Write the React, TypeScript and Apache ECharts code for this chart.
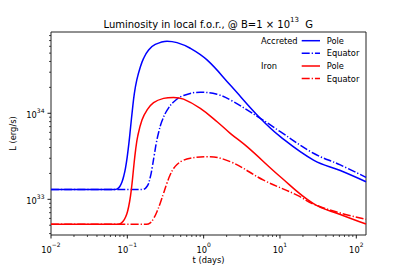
import React, { useEffect, useRef } from 'react';
import * as echarts from 'echarts';

// axis ranges (days, erg/s)
const X_MIN_DAYS = 0.01;
const X_MAX_DAYS = 134;
const Y_MIN_LUM = 3.85e32;
const Y_MAX_LUM = 8.8e34;

// Accreted envelope, pole
const accretedPoleT = [0.01, 0.0675, 0.0739, 0.0797, 0.0851, 0.0899, 0.0946, 0.0996, 0.105, 0.1104, 0.1161, 0.1234, 0.1331, 0.148, 0.1633, 0.19, 0.2323, 0.3311, 0.4477, 0.668, 1.107, 2.23, 5.52, 10.1, 27.5, 61.7, 134];
const accretedPoleL = [1.3e33, 1.3e33, 1.325e33, 1.41e33, 1.59e33, 1.87e33, 2.31e33, 3.1e33, 4.52e33, 6.93e33, 1.06e34, 1.68e34, 2.44e34, 3.45e34, 4.34e34, 5.45e34, 6.31e34, 6.89e34, 6.62e34, 5.7e34, 4.17e34, 2.13e34, 8.75e33, 5.35e33, 2.86e33, 2.16e33, 1.6e33];

// Accreted envelope, equator
const accretedEquatorT = [0.01, 0.158, 0.1828, 0.2, 0.2123, 0.2254, 0.2399, 0.257, 0.2844, 0.3311, 0.4036, 0.5458, 0.9036, 1.5, 2.23, 5.52, 10.1, 27.5, 61.7, 134];
const accretedEquatorL = [1.3e33, 1.3e33, 1.429e33, 1.816e33, 2.377e33, 3.273e33, 4.519e33, 5.984e33, 8.128e33, 1.079e34, 1.352e34, 1.611e34, 1.754e34, 1.66e34, 1.43e34, 8.75e33, 6.11e33, 3.43e33, 2.51e33, 1.8e33];

// Iron envelope, pole
const ironPoleT = [0.01, 0.0762, 0.0834, 0.0912, 0.0984, 0.1045, 0.11, 0.1155, 0.1216, 0.1283, 0.1371, 0.1556, 0.1811, 0.2208, 0.2985, 0.4036, 0.5458, 0.904, 1.5, 2.23, 3.7, 10.1, 27.5, 61.7, 134];
const ironPoleL = [5.12e32, 5.12e32, 5.3e32, 5.82e32, 6.75e32, 8.36e32, 1.09e33, 1.55e33, 2.44e33, 3.74e33, 5.45e33, 8.36e33, 1.09e34, 1.33e34, 1.49e34, 1.53e34, 1.46e34, 1.14e34, 7.98e33, 5.85e33, 4.09e33, 1.83e33, 8.9e32, 6.67e32, 5.16e32];

// Iron envelope, equator
const ironEquatorT = [0.01, 0.178, 0.2, 0.2208, 0.2449, 0.2704, 0.2985, 0.3311, 0.3656, 0.4036, 0.4477, 0.52, 0.668, 1.107, 2.23, 6.1, 16.7, 27.5, 61.7, 134];
const ironEquatorL = [5.12e32, 5.12e32, 5.33e32, 5.98e32, 7.21e32, 9.06e32, 1.18e33, 1.55e33, 1.94e33, 2.28e33, 2.54e33, 2.79e33, 3.0e33, 3.13e33, 2.74e33, 1.67e33, 1.12e33, 8.8e32, 6.93e32, 5.85e32];

const xMajorExponents = [-2, -1, 0, 1, 2];
const yMajorExponents = [33, 34];
const minorMultipliers = [2, 3, 4, 5, 6, 7, 8, 9];

const FONT = 'DejaVu Sans';
const BLUE = '#0000ff';
const RED = '#ff0000';
const DASHDOT = [8, 2, 1.25, 2];

const lg = (v: number) => Math.log10(v);
const XL0 = lg(X_MIN_DAYS), XL1 = lg(X_MAX_DAYS);
const YL0 = lg(Y_MIN_LUM), YL1 = lg(Y_MAX_LUM);

function pairs(ts: number[], ls: number[]) {
  return ts.map((t, i) => [lg(t), lg(ls[i])]);
}

function tickData(majors: number[], l0: number, l1: number) {
  const out: number[][] = [];
  majors.forEach((e) => out.push([e, 1]));
  for (let n = Math.floor(l0) - 1; n <= Math.ceil(l1); n++) {
    minorMultipliers.forEach((k) => {
      const v = n + Math.log10(k);
      if (v >= l0 - 1e-9 && v <= l1 + 1e-9) out.push([v, 0]);
    });
  }
  return out;
}

const supRich = {
  b: { fontSize: 8.3, fontFamily: FONT, fill: '#000', color: '#000', lineHeight: 12, verticalAlign: 'bottom' },
  s: { fontSize: 6, fontFamily: FONT, fill: '#000', color: '#000', lineHeight: 6, verticalAlign: 'top' },
};

function expLabel(n: number) {
  const e = n < 0 ? '\u2212' + Math.abs(n) : String(n);
  return `{b|10}{s|${e}}`;
}

export default function App() {
  const ref = useRef<HTMLDivElement>(null);
  useEffect(() => {
    if (!ref.current) return;
    const chart = echarts.init(ref.current, undefined, { renderer: 'svg' });

    const lineSeries = (name: string, data: number[][], color: string, dash: any) => ({
      name,
      type: 'line',
      data,
      showSymbol: false,
      symbol: 'none',
      smooth: 0.4,
      clip: true,
      silent: true,
      lineStyle: { color, width: 1.5, type: dash },
      z: 3,
    });

    const xTickSeries = {
      type: 'custom',
      silent: true,
      clip: false,
      data: tickData(xMajorExponents, XL0, XL1),
      renderItem: (params: any, api: any) => {
        const v = api.value(0);
        const major = api.value(1) === 1;
        const p = api.coord([v, YL0]);
        const len = major ? 3.5 : 2;
        const children: any[] = [
          { type: 'line', shape: { x1: p[0], y1: p[1], x2: p[0], y2: p[1] + len }, style: { stroke: '#000', lineWidth: major ? 0.9 : 0.7 } },
        ];
        if (major) {
          children.push({
            type: 'text',
            x: p[0],
            y: p[1] + len + 3,
            style: { text: expLabel(Math.round(v)), rich: supRich, align: 'center', verticalAlign: 'top', fill: '#000' },
          });
        }
        return { type: 'group', children };
      },
    };

    const yTickSeries = {
      type: 'custom',
      silent: true,
      clip: false,
      data: tickData(yMajorExponents, YL0, YL1).map((d) => [XL0, d[0], d[1]]),
      encode: { x: 0, y: 1 },
      renderItem: (params: any, api: any) => {
        const v = api.value(1);
        const major = api.value(2) === 1;
        const p = api.coord([XL0, v]);
        const len = major ? 3.5 : 2;
        const children: any[] = [
          { type: 'line', shape: { x1: p[0], y1: p[1], x2: p[0] - len, y2: p[1] }, style: { stroke: '#000', lineWidth: major ? 0.9 : 0.7 } },
        ];
        if (major) {
          children.push({
            type: 'text',
            x: p[0] - len - 3,
            y: p[1],
            style: { text: expLabel(Math.round(v)), rich: supRich, align: 'right', verticalAlign: 'middle', fill: '#000' },
          });
        }
        return { type: 'group', children };
      },
    };

    const legendRows = [
      { y: 40.7, group: 'Accreted', color: BLUE, dash: null, label: 'Pole' },
      { y: 53.3, group: '', color: BLUE, dash: DASHDOT, label: 'Equator' },
      { y: 66, group: 'Iron', color: RED, dash: null, label: 'Pole' },
      { y: 78.5, group: '', color: RED, dash: DASHDOT, label: 'Equator' },
    ];
    const legendGraphics: any[] = [];
    legendRows.forEach((r) => {
      if (r.group) {
        legendGraphics.push({
          type: 'text', x: 261, y: r.y,
          style: { text: r.group, fontSize: 8.3, fontFamily: FONT, fill: '#000', align: 'left', verticalAlign: 'middle' },
        });
      }
      legendGraphics.push({
        type: 'line', shape: { x1: 301.7, y1: r.y, x2: 320, y2: r.y },
        style: { stroke: r.color, lineWidth: 1.5, lineDash: r.dash || undefined },
      });
      legendGraphics.push({
        type: 'text', x: 326.7, y: r.y,
        style: { text: r.label, fontSize: 8.3, fontFamily: FONT, fill: '#000', align: 'left', verticalAlign: 'middle' },
      });
    });

    chart.setOption({
      animation: false,
      backgroundColor: '#fff',
      textStyle: { fontFamily: FONT },
      grid: { left: 51, right: 41, top: 32, bottom: 36, show: true, borderColor: '#222', borderWidth: 1, backgroundColor: 'transparent', containLabel: false },
      xAxis: {
        type: 'value', min: XL0, max: XL1,
        axisLine: { show: false }, axisTick: { show: false }, axisLabel: { show: false }, splitLine: { show: false },
        name: 't (days)', nameLocation: 'middle', nameGap: 21,
        nameTextStyle: { fontSize: 8.3, color: '#000', fontFamily: FONT },
      },
      yAxis: {
        type: 'value', min: YL0, max: YL1,
        axisLine: { show: false }, axisTick: { show: false }, axisLabel: { show: false }, splitLine: { show: false },
        name: 'L (erg/s)', nameLocation: 'middle', nameGap: 34,
        nameTextStyle: { fontSize: 8.3, color: '#000', fontFamily: FONT },
      },
      graphic: [
        {
          type: 'text', x: 208.3, y: 22.5,
          style: {
            text: '{a|Luminosity in local f.o.r., @ B=1 \u00d7 10}{s|13}{a|  G}',
            align: 'center', verticalAlign: 'middle', fill: '#000',
            rich: {
              a: { fontSize: 10, fontFamily: FONT, fill: '#000', lineHeight: 13, verticalAlign: 'bottom' },
              s: { fontSize: 7, fontFamily: FONT, fill: '#000', lineHeight: 7, verticalAlign: 'top' },
            },
          },
        },
        ...legendGraphics,
      ],
      series: [
        lineSeries('Accreted Pole', pairs(accretedPoleT, accretedPoleL), BLUE, 'solid'),
        lineSeries('Accreted Equator', pairs(accretedEquatorT, accretedEquatorL), BLUE, DASHDOT),
        lineSeries('Iron Pole', pairs(ironPoleT, ironPoleL), RED, 'solid'),
        lineSeries('Iron Equator', pairs(ironEquatorT, ironEquatorL), RED, DASHDOT),
        xTickSeries,
        yTickSeries,
      ],
    });
    return () => chart.dispose();
  }, []);
  return <div ref={ref} style={{ position: 'absolute', left: 0, top: 0, width: 407, height: 271, background: '#fff' }} />;
}
